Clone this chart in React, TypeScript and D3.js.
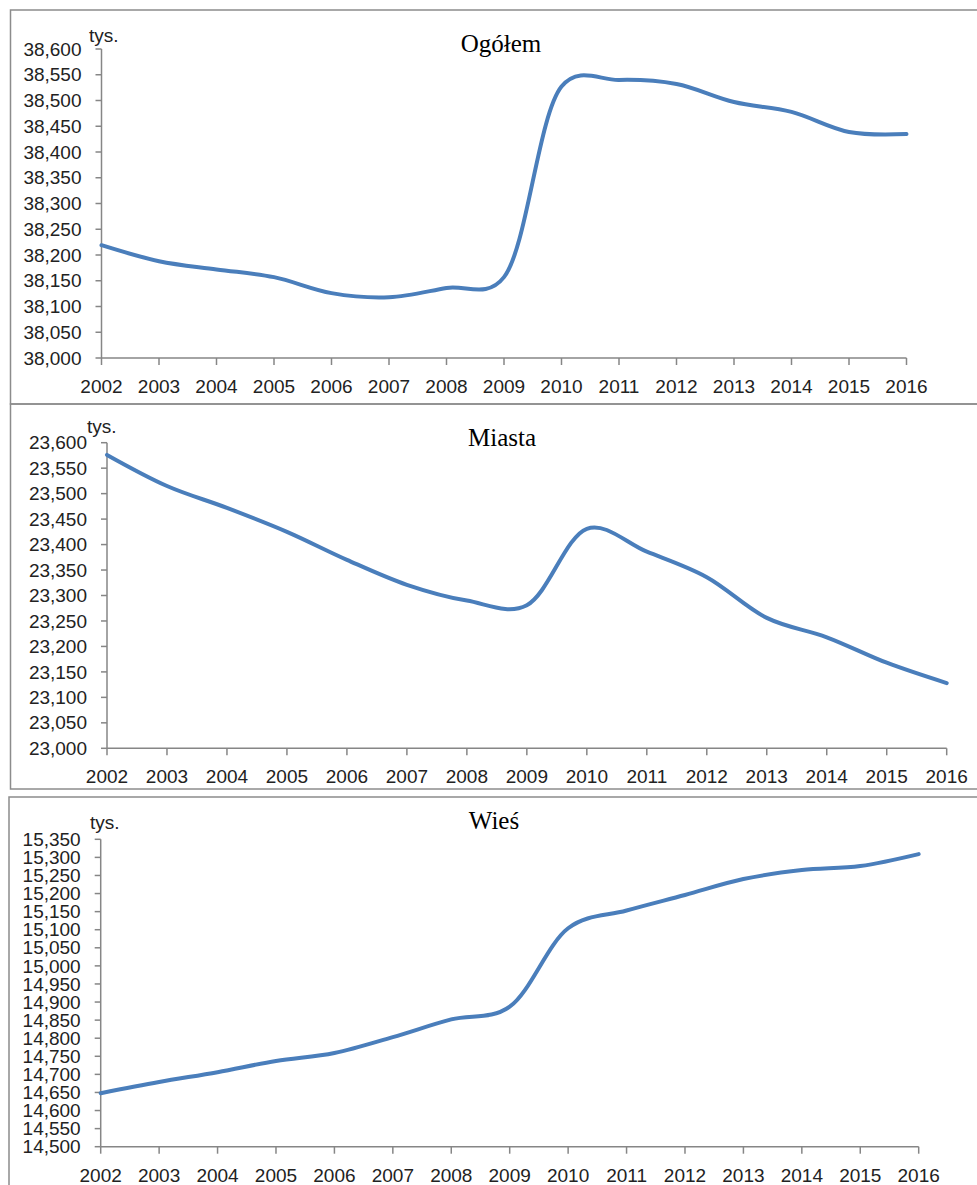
import * as d3 from "d3";

const years = [2002, 2003, 2004, 2005, 2006, 2007, 2008, 2009, 2010, 2011, 2012, 2013, 2014, 2015, 2016];

// thousands of people
const ogolem = [38219, 38188, 38172, 38157, 38126, 38118, 38136, 38157, 38527, 38540, 38532, 38497, 38478, 38439, 38435];
const miasta = [23576, 23515, 23472, 23425, 23370, 23321, 23290, 23281, 23431, 23386, 23336, 23256, 23218, 23168, 23128];
const wies = [14648, 14679, 14706, 14737, 14759, 14803, 14852, 14887, 15104, 15153, 15196, 15240, 15265, 15276, 15309];

const titles = ["Ogółem", "Miasta", "Wieś"];
const unitLabel = "tys.";

const ogolemTicks = d3.range(38000, 38601, 50);
const miastaTicks = d3.range(23000, 23601, 50);
const wiesTicks = d3.range(14500, 15351, 50);

const lineColor = "#4a7ebb";
const axisColor = "#868686";
const frameColor = "#8c8c8c";
const sans = "'Liberation Sans', Arial, sans-serif";
const serif = "'Liberation Serif', 'Times New Roman', serif";

type PanelProps = {
    values: number[];
    ticks: number[];
    title: string;
    frame: number[]; // [left, top, bottom]
    plot: number[]; // [x0, x1, yTop, yBottom]
    titlePos: number[];
    unitPos: number[];
};

function Panel(props: PanelProps) {
    const [x0, x1, yTop, yBottom] = props.plot;
    const x = d3.scaleLinear().domain([years[0], years[years.length - 1]]).range([x0, x1]);
    const y = d3.scaleLinear().domain([props.ticks[0], props.ticks[props.ticks.length - 1]]).range([yBottom, yTop]);
    // smoothed line, close to the spreadsheet's "smoothed line" option
    const line = d3.line<number>()
        .x((_, i) => x(years[i]))
        .y(v => y(v))
        .curve(d3.curveCatmullRom.alpha(0.25));
    const fmt = d3.format(",");
    const [fl, ft, fb] = props.frame;
    return <g>
        <rect x={fl} y={ft} width={1100} height={fb - ft} fill="none" stroke={frameColor} strokeWidth={1.5}/>
        <text x={props.titlePos[0]} y={props.titlePos[1]} textAnchor="middle" fontFamily={serif} fontSize={25} fill="#000">{props.title}</text>
        <text x={props.unitPos[0]} y={props.unitPos[1]} fontFamily={sans} fontSize={19} fill="#222">{unitLabel}</text>
        <line x1={x0} x2={x0} y1={yTop} y2={yBottom} stroke={axisColor} strokeWidth={1.5}/>
        <line x1={x0} x2={x1} y1={yBottom} y2={yBottom} stroke={axisColor} strokeWidth={1.5}/>
        {props.ticks.map(t => <g key={t}>
            <line x1={x0 - 6} x2={x0} y1={y(t)} y2={y(t)} stroke={axisColor} strokeWidth={1.5}/>
            <text x={x0 - 20} y={y(t)} dy="0.35em" textAnchor="end" fontFamily={sans} fontSize={19} fill="#222">{fmt(t)}</text>
        </g>)}
        {years.map(yr => <g key={yr}>
            <line x1={x(yr)} x2={x(yr)} y1={yBottom} y2={yBottom + 7} stroke={axisColor} strokeWidth={1.5}/>
            <text x={x(yr)} y={yBottom + 35} textAnchor="middle" fontFamily={sans} fontSize={19} fill="#222">{yr}</text>
        </g>)}
        <path d={line(props.values) ?? ""} fill="none" stroke={lineColor} strokeWidth={4} strokeLinecap="round"/>
    </g>;
}

export default function App() {
    return <svg width={977} height={1185} style={{position: "absolute", left: 0, top: 0, background: "#fff"}}>
        <rect width={977} height={1185} fill="#fff"/>
        <Panel values={ogolem} ticks={ogolemTicks} title={titles[0]}
               frame={[10.5, 10, 404]} plot={[101.5, 906.5, 49, 358]}
               titlePos={[501, 52]} unitPos={[89, 42]}/>
        <Panel values={miasta} ticks={miastaTicks} title={titles[1]}
               frame={[10.5, 404, 789]} plot={[107, 946.7, 442.7, 748.3]}
               titlePos={[502, 446]} unitPos={[87, 433]}/>
        <Panel values={wies} ticks={wiesTicks} title={titles[2]}
               frame={[9, 797, 1300]} plot={[100.7, 918.7, 839.3, 1146.7]}
               titlePos={[494, 829]} unitPos={[90, 829]}/>
    </svg>;
}
